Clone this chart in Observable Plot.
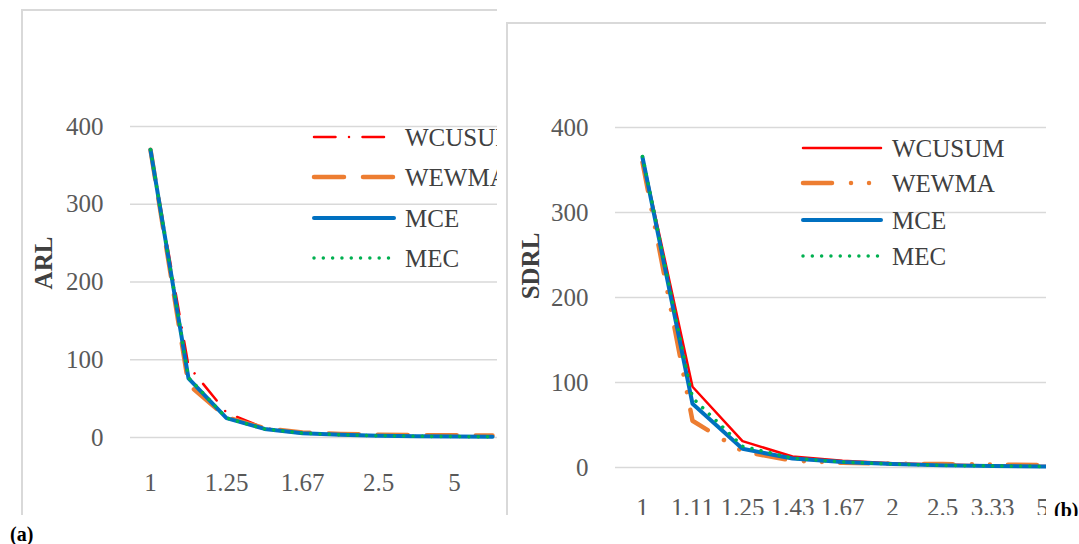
<!DOCTYPE html>
<html><head><meta charset="utf-8">
<script src="https://cdn.jsdelivr.net/npm/d3@7"></script>
<script src="https://cdn.jsdelivr.net/npm/@observablehq/plot@0.6"></script>
<style>
html,body{margin:0;padding:0;background:#fff;}
body{width:1079px;height:544px;position:relative;overflow:hidden;font-family:"Liberation Serif","Times New Roman",serif;}
.clip{position:absolute;overflow:hidden;}
.clip svg{position:absolute;left:0;top:0;max-width:none !important;}
.border{position:absolute;background:#d9d9d9;}
.cap{position:absolute;font-weight:bold;font-size:20px;color:#000;line-height:20px;background:#fff;white-space:nowrap;}
.ytitle{position:absolute;font-weight:bold;font-size:25px;color:#404040;transform:translate(-50%,-50%) rotate(-90deg);white-space:nowrap;line-height:1;}
</style></head><body>
<div class="border" style="left:21px;top:9px;width:1.5px;height:506px"></div>
<div class="border" style="left:21px;top:9px;width:476px;height:1.5px"></div>
<div class="border" style="left:506px;top:22px;width:1.5px;height:493px"></div>
<div class="border" style="left:506px;top:22px;width:540px;height:1.5px"></div>
<div id="a" class="clip" style="left:0;top:0;width:497px;height:515px"></div>
<div id="b" class="clip" style="left:505px;top:0;width:541px;height:515px"></div>
<div class="ytitle" style="left:43px;top:263px">ARL</div>
<div class="ytitle" style="left:530px;top:266px">SDRL</div>
<div class="cap" style="left:10px;top:524px">(a)</div>
<div style="position:absolute;left:1050px;top:498px;width:29px;height:18px;overflow:hidden;background:#fff"><div class="cap" style="left:4px;top:2px">(b)</div></div>
<script>
// categories (shift sizes)
const categories = ["1","1.11","1.25","1.43","1.67","2","2.5","3.33","5","10"];
const xTicksA = ["1","1.25","1.67","2.5","5"];
const xTicksB = ["1","1.11","1.25","1.43","1.67","2","2.5","3.33","5","10"];
const yTicks = [0,100,200,300,400];
const seriesNames = ["WCUSUM","WEWMA","MCE","MEC"];

// (a) ARL
const wcusumARL = [370, 92, 32, 12, 6, 3.8, 2.5, 1.8, 1.3, 1.0];
const wewmaARL  = [370, 68, 26, 12, 6.5, 4.5, 3.5, 3, 2.8, 2.5];
const mceARL    = [370, 76, 25, 11, 5.5, 3.5, 2.3, 1.6, 1.2, 1.0];
const mecARL    = [370, 77, 25, 11, 5.5, 3.5, 2.3, 1.6, 1.2, 1.0];

// (b) SDRL
const wcusumSDRL = [365, 95, 31, 13, 8, 5, 3.5, 2.5, 1.8, 1.2];
const wewmaSDRL  = [359, 55, 19, 8, 5.5, 4.5, 4, 3.5, 3, 2.5];
const mceSDRL    = [365, 75, 22, 10.5, 6.5, 4, 2.5, 1.8, 1.2, 0.8];
const mecSDRL    = [366, 82, 25, 11, 6.5, 4, 2.5, 1.8, 1.2, 0.8];

const stylesA = [
  {stroke:"#ff0000", strokeWidth:2.5, strokeDasharray:"21.5 13.5 0.01 13.5"},
  {stroke:"#ed7d31", strokeWidth:4.5, strokeDasharray:"30 19"},
  {stroke:"#0070c0", strokeWidth:4},
  {stroke:"#00b050", strokeWidth:3.5, strokeDasharray:"0.01 9.3"}
];
const stylesB = [
  {stroke:"#ff0000", strokeWidth:2.5},
  {stroke:"#ed7d31", strokeWidth:4.5, strokeDasharray:"29 19 0.01 18 0.01 18"},
  {stroke:"#0070c0", strokeWidth:4},
  {stroke:"#00b050", strokeWidth:3.5, strokeDasharray:"0.01 9.3"}
];

function rows(vals){ return categories.map((c,i)=>({x:c, y:vals[i]})); }

function chart(seriesVals, styles, xTicks, cfg){
  return Plot.plot({
    width: cfg.width, height: 515,
    marginLeft: cfg.ml, marginRight: cfg.mr, marginTop: cfg.mt, marginBottom: cfg.mb,
    style:{fontFamily:'"Liberation Serif", serif', fontSize:"25px", color:"#595959", background:"transparent", maxWidth:"none"},
    x:{type:"point", domain:categories, padding:0.5, label:null},
    y:{domain:[0,400], label:null},
    marks:[
      Plot.gridY(yTicks, {stroke:"#d9d9d9", strokeOpacity:1, strokeWidth:1.5}),
      Plot.axisY({ticks:yTicks, tickSize:0, tickPadding:27, label:null}),
      Plot.axisX({ticks:xTicks, tickSize:0, tickPadding:cfg.xpad, label:null}),
      ...seriesVals.map((v,k)=>Plot.line(rows(v), {x:"x", y:"y", ...styles[k], strokeLinecap:"round", strokeLinejoin:"round"}))
    ]
  });
}

function legend(container, styles, cfg){
  const svg = d3.select(container).append("svg")
    .attr("width", cfg.w).attr("height", 515)
    .style("font-family",'"Liberation Serif", serif').style("font-size","25px");
  seriesNames.forEach((name,k)=>{
    const s = styles[k];
    svg.append("line").attr("x1",cfg.x1).attr("x2",cfg.x2).attr("y1",cfg.rows[k]).attr("y2",cfg.rows[k])
      .attr("stroke",s.stroke).attr("stroke-width",s.strokeWidth)
      .attr("stroke-dasharray",s.strokeDasharray||null).attr("stroke-linecap","round");
    svg.append("text").attr("x",cfg.tx).attr("y",cfg.rows[k]).attr("dy","0.35em")
      .attr("fill","#404040").text(name);
  });
}

const A = document.getElementById("a");
A.appendChild(chart([wcusumARL, wewmaARL, mceARL, mecARL], stylesA, xTicksA,
  {width:560, ml:130, mr:48, mt:126, mb:78, xpad:36}));
legend(A, stylesA, {w:497, x1:314, x2:394, tx:405, rows:[137,177,218,258]});

const B = document.getElementById("b");
B.appendChild(chart([wcusumSDRL, wewmaSDRL, mceSDRL, mecSDRL], stylesB, xTicksB,
  {width:640, ml:110, mr:26, mt:127, mb:48, xpad:31}));
legend(B, stylesB, {w:541, x1:298, x2:376, tx:387, rows:[148,183,220,256]});
</script>
</body></html>
